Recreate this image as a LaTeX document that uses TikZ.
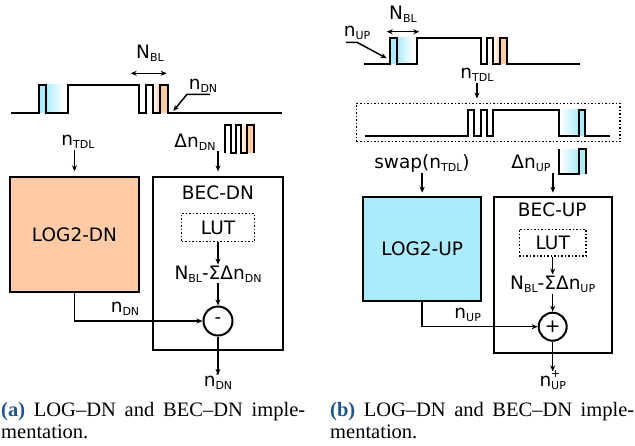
\documentclass[tikz,border=0pt]{standalone}
\usepackage{fontspec}
\setmainfont{DejaVu Sans}
\newfontfamily\capfont{Liberation Serif}
\usetikzlibrary{arrows.meta,positioning}
\definecolor{ink}{HTML}{000000}
\definecolor{peach}{HTML}{FFCBA6}
\definecolor{sky}{HTML}{ABEBFB}
\definecolor{capc}{HTML}{22548C}
\newcommand{\lsub}[1]{\raisebox{-3pt}{\fontsize{11}{12}\selectfont #1}}
\newcommand{\lsup}[1]{\rlap{\raisebox{8.5pt}{\fontsize{11}{12}\selectfont #1}}}
\newcommand{\labfont}{\fontsize{18.5}{22}\selectfont}
\tikzset{
  blk/.style={draw=ink,line width=2pt,inner sep=0pt,font=\labfont},
  dotbox/.style={draw=ink,dotted,line width=1.5pt,inner sep=0pt,font=\labfont},
  txt/.style={font=\labfont,inner sep=1pt},
  wave/.style={ink,line width=2pt,line join=miter},
  arr/.style={ink,line width=1.5pt,-{Stealth[length=6pt,width=5pt]}},
  dbl/.style={ink,line width=1.5pt,{Stealth[length=6pt,width=5pt]}-{Stealth[length=6pt,width=5pt]}},
  opc/.style={circle,draw=ink,line width=2pt,inner sep=0pt,font=\labfont},
  captxt/.style={font=\capfont\fontsize{20.5}{22.5}\selectfont,text width=304pt,align=justify,inner sep=0pt,anchor=base west},
}

\begin{document}
\begin{tikzpicture}[x=1pt,y=-1pt]
  \useasboundingbox (0,0) rectangle (635,445);
  % (a) bit stream
  \fill[sky] (38.5,84.7) rectangle (45.7,112.7);
  \shade[left color=sky,right color=white] (45.7,84.7) rectangle (64,112.7);
  \shade[left color=white,right color=peach] (152.7,84.7) rectangle (160,112.7);
  \fill[peach] (160,84.7) rectangle (167.7,112.7);
  \draw[wave] (11,112.7) -- (38.5,112.7) -- (38.5,84.7) -- (45.7,84.7) -- (45.7,112.7)
    -- (67.7,112.7) -- (67.7,84.7) -- (139.3,84.7) -- (139.3,112.7) -- (145.7,112.7)
    -- (145.7,84.7) -- (152.7,84.7) -- (152.7,112.7) -- (160,112.7) -- (160,84.7)
    -- (167.7,84.7) -- (167.7,112.7) -- (281.7,112.7);
  \node[txt] (nbla) at (150,53) {N\lsub{BL}};
  \coordinate (nblaL) at (130.7,73.3);
  \coordinate (nblaR) at (166.7,73.3);
  \draw[dbl] (nblaL) -- (nblaR);
  \node[txt] (ndn) at (203,86) {n\lsub{DN}};
  \coordinate (ndnk) at (187,94.3);
  \coordinate (ndntip) at (173.3,111);
  \draw[arr] (210,94.3) -- (ndnk) -- (ndntip);
  % (a) delta pulses
  \shade[left color=white,right color=peach] (241,125) rectangle (247,153);
  \fill[peach] (247,125) rectangle (253.5,153);
  \draw[wave] (224.7,153) -- (224.7,125) -- (230.5,125) -- (230.5,153) -- (235.5,153)
    -- (235.5,125) -- (241,125) -- (241,153) -- (247,153) -- (247,125) -- (253.5,125)
    -- (253.5,153);
  % (a) blocks
  \node[txt] (ntdl) at (78,142) {n\lsub{TDL}};
  \node[txt] (dndn) at (195,142) {Δn\lsub{DN}};
  \node[blk,fill=peach,minimum width=129pt,minimum height=115pt] (logdn) at (74.5,234.8) {LOG2-DN};
  \node[blk,minimum width=129.4pt,minimum height=172.7pt] (becdn) at (218,263.7) {};
  \node[txt] (becdnt) at (218,192.7) {BEC-DN};
  \node[dotbox,minimum width=72.6pt,minimum height=28.4pt] (lutdn) at (218,227.5) {LUT};
  \node[txt] (fdn) at (218,274) {N\lsub{BL}-ΣΔn\lsub{DN}};
  \node[opc,minimum size=29pt] (subdn) at (218,321) {-};
  \node[txt] (ndnb) at (125,309) {n\lsub{DN}};
  \node[txt,anchor=base] (odn) at (218,386) {n\lsup{-}\lsub{DN}};
  \draw[arr,shorten >=5pt] (ntdl.south -| logdn.north) -- (logdn.north);
  \draw[arr,shorten >=5pt] (dndn.south -| becdn.north) -- (becdn.north);
  \draw[arr] (lutdn) -- (fdn);
  \draw[arr] (fdn) -- (subdn);
  \draw[arr] (logdn.south) |- (subdn.west);
  \draw[arr,shorten >=-2pt] (subdn) -- (odn.north);
  % (b) bit stream
  \fill[sky] (390,37.7) rectangle (396.7,64.3);
  \shade[left color=sky,right color=white] (396.7,37.7) rectangle (413,64.3);
  \shade[left color=white,right color=peach] (493.3,37.7) rectangle (500,64.3);
  \fill[peach] (500,37.7) rectangle (506.7,64.3);
  \draw[wave] (364,64.3) -- (390,64.3) -- (390,37.7) -- (396.7,37.7) -- (396.7,64.3)
    -- (416.7,64.3) -- (416.7,37.7) -- (481,37.7) -- (481,64.3) -- (486.7,64.3)
    -- (486.7,37.7) -- (493.3,37.7) -- (493.3,64.3) -- (500,64.3) -- (500,37.7)
    -- (506.7,37.7) -- (506.7,64.3) -- (580,64.3);
  \node[txt] (nblb) at (403,14) {N\lsub{BL}};
  \coordinate (nblbL) at (386.7,31.7);
  \coordinate (nblbR) at (419.3,31.7);
  \draw[dbl] (nblbL) -- (nblbR);
  \node[txt] (nup) at (357,33) {n\lsub{UP}};
  \coordinate (nupk) at (357,42.3);
  \coordinate (nuptip) at (386.7,58.3);
  \draw[arr] (346,42.3) -- (nupk) -- (nuptip);
  % (b) swapped stream
  \node[txt] (ntdlb) at (477,75) {n\lsub{TDL}};
  \node[dotbox,minimum width=263.3pt,minimum height=38.4pt] (tdl) at (488.3,122.5) {};
  \draw[arr,shorten >=4pt] (ntdlb.south) -- (ntdlb.south |- tdl.north);
  \shade[left color=white,right color=sky] (559.3,109.7) rectangle (579.3,135.7);
  \fill[sky] (579.3,109.7) rectangle (585,135.7);
  \draw[wave] (365,135.7) -- (468.3,135.7) -- (468.3,109.7) -- (474.3,109.7) -- (474.3,135.7)
    -- (481,135.7) -- (481,109.7) -- (486.7,109.7) -- (486.7,135.7) -- (493.3,135.7)
    -- (493.3,109.7) -- (559.3,109.7) -- (559.3,135.7) -- (579.3,135.7) -- (579.3,109.7)
    -- (585,109.7) -- (585,135.7) -- (610,135.7);
  % (b) delta pulse
  \shade[left color=white,right color=sky] (559.3,149) rectangle (579,174);
  \fill[sky] (579,149) rectangle (585.7,174);
  \draw[wave] (559.3,149) -- (559.3,174) -- (579,174) -- (579,149) -- (585.7,149) -- (585.7,174);
  % (b) blocks
  \node[txt] (swp) at (422,163) {swap(n\lsub{TDL})};
  \node[txt] (dnup) at (531,163) {Δn\lsub{UP}};
  \node[blk,fill=sky,minimum width=117.7pt,minimum height=104pt] (logup) at (422.2,248.7) {LOG2-UP};
  \node[blk,minimum width=117.7pt,minimum height=156pt] (becup) at (552.9,274.7) {};
  \node[txt] (becupt) at (552.3,210) {BEC-UP};
  \node[dotbox,minimum width=66.7pt,minimum height=26.7pt] (lutup) at (552.7,242.7) {LUT};
  \node[txt] (fup) at (552.7,284) {N\lsub{BL}-ΣΔn\lsub{UP}};
  \node[opc,minimum size=28pt] (addup) at (552.7,326.7) {+};
  \node[txt] (nupb) at (467.7,315) {n\lsub{UP}};
  \node[txt,anchor=base] (oup) at (552.7,386) {n\lsup{+}\lsub{UP}};
  \draw[arr,shorten >=3pt] (swp.south -| logup.north) -- (logup.north);
  \draw[arr,shorten >=3pt] (dnup.south -| becup.north) -- (becup.north);
  \draw[arr] (lutup) -- (fup);
  \draw[arr] (fup) -- (addup);
  \draw[arr] (logup.south) |- (addup.west);
  \draw[arr,shorten >=-2pt] (addup) -- (oup.north);
  % captions
  \node[captxt] (capa) at (1,416) {\textcolor{capc}{\textbf{(a)}} LOG–DN and BEC–DN imple-\linebreak mentation.};
  \node[captxt] (capb) at (330,416) {\textcolor{capc}{\textbf{(b)}} LOG–DN and BEC–DN imple-\linebreak mentation.};
\end{tikzpicture}
\end{document}
